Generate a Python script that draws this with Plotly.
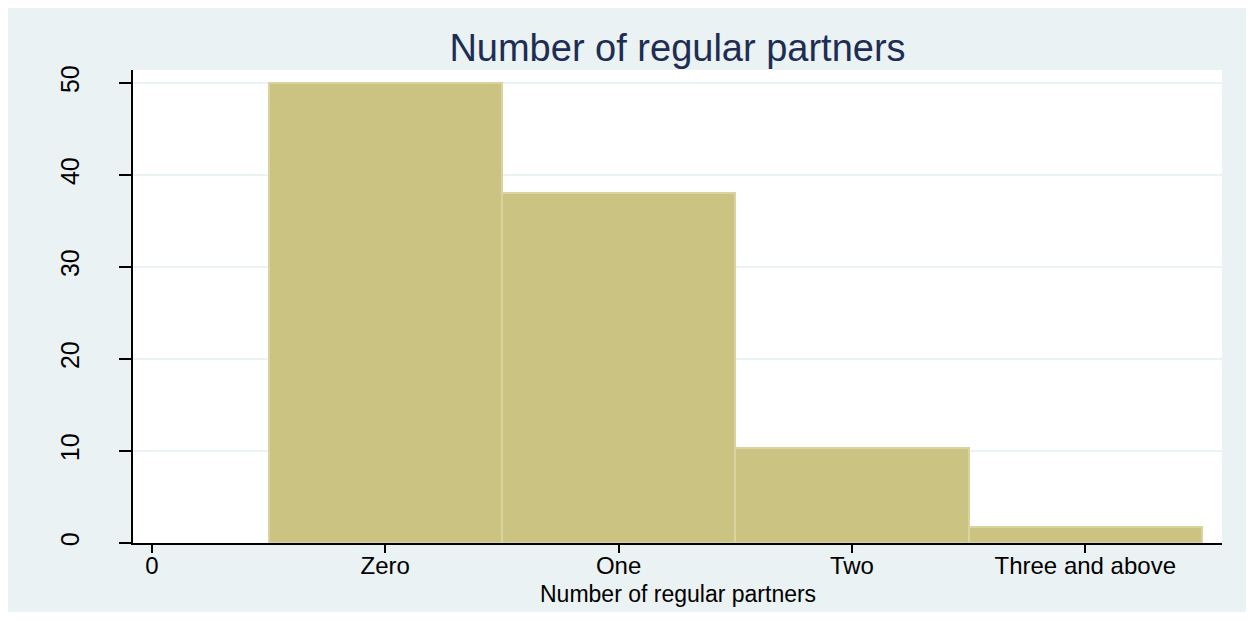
import plotly.graph_objects as go

# Data
categories = ["Zero", "One", "Two", "Three and above"]
positions = [1, 2, 3, 4]
percent = [50.0, 38.0, 10.3, 1.7]
tick_vals = [0, 1, 2, 3, 4]
tick_text = ["0", "Zero", "One", "Two", "Three and above"]
y_ticks = [0, 10, 20, 30, 40, 50]

# The page body keeps an 8px white margin around the figure
W, H = 1238, 604
ML, MR, MT, MB = 125, 24, 62, 69
PW, PH = W - ML - MR, H - MT - MB

BAR_FILL = "rgb(203,195,130)"
BAR_LINE = "rgb(218,211,160)"
BG = "#EAF2F3"
FONT = "Liberation Sans, Arial, sans-serif"

fig = go.Figure()
fig.add_trace(go.Bar(
    x=positions, y=percent, width=1,
    marker=dict(color=BAR_FILL, line=dict(color=BAR_LINE, width=2)),
    customdata=categories,
    hovertemplate="%{customdata}: %{y}<extra></extra>",
    showlegend=False,
))

fig.update_layout(
    width=W, height=H,
    margin=dict(l=ML, r=MR, t=MT, b=MB),
    paper_bgcolor=BG, plot_bgcolor="white",
    font=dict(family=FONT, color="black"),
    bargap=0,
    title=dict(text="Number of regular partners", x=(ML + PW / 2) / W, xanchor="center",
               y=1 - 40 / H, yanchor="middle",
               font=dict(family=FONT, size=38, color="#1E2D53")),
    xaxis=dict(
        range=[-0.081, 4.586], tickmode="array", tickvals=tick_vals, ticktext=tick_text,
        ticks="outside", ticklen=8, tickcolor="black", tickwidth=1.5,
        showline=True, linecolor="black", linewidth=1.5, showgrid=False, zeroline=False,
        tickfont=dict(size=24, color="black"), ticklabelstandoff=-8,
    ),
    yaxis=dict(
        range=[0, 51.4], tickmode="array", tickvals=y_ticks,
        ticks="outside", ticklen=12, tickcolor="black", tickwidth=1.5,
        showline=True, linecolor="black", linewidth=1.5,
        showgrid=True, gridcolor=BG, gridwidth=2, zeroline=False,
        tickangle=-90, tickfont=dict(size=25, color="black"), ticklabelstandoff=30,
    ),
    annotations=[dict(
        text="Number of regular partners", xref="paper", yref="paper",
        x=0.5, y=(535 - 586) / PH, xanchor="center", yanchor="middle",
        showarrow=False, font=dict(family=FONT, size=23, color="black"),
    )],
)

fig.write_html("out.html")
